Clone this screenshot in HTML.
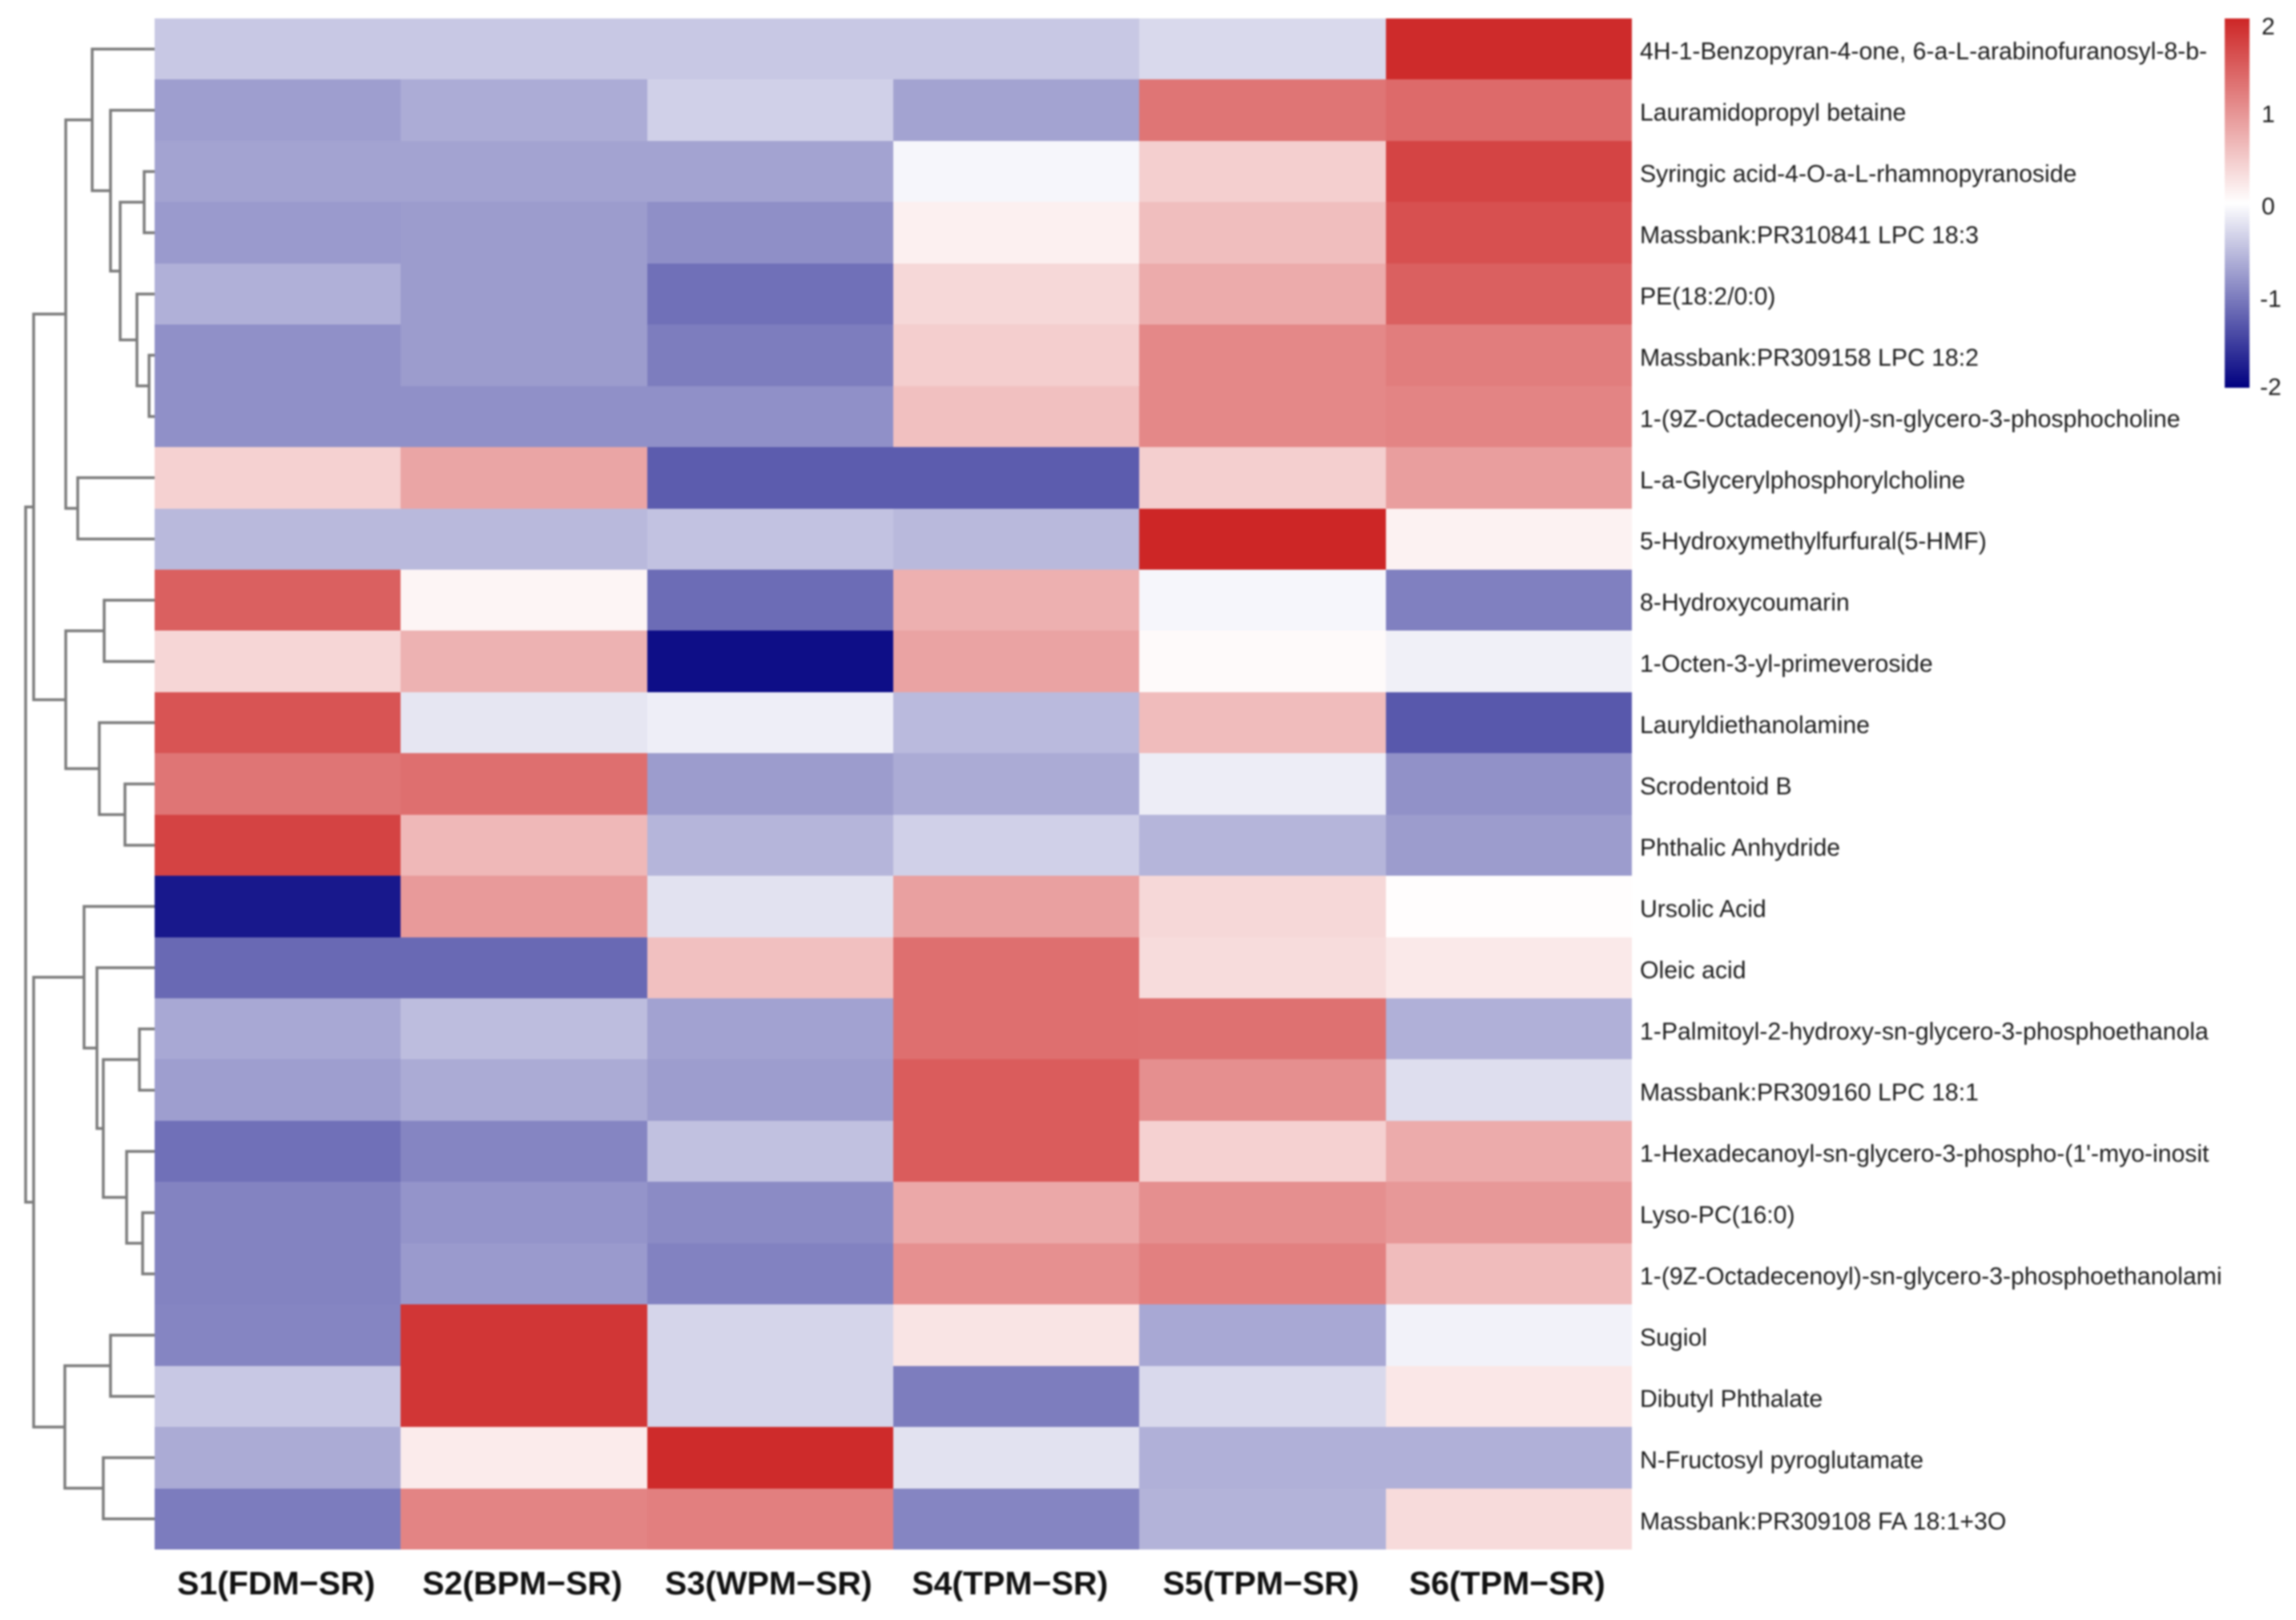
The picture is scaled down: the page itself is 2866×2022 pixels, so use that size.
<!DOCTYPE html>
<html lang="en">
<head>
<meta charset="utf-8">
<title>Metabolite heatmap</title>
<style>
html,body{margin:0;padding:0;background:#fff;width:2866px;height:2022px;overflow:hidden}
svg{display:block;filter:blur(1px)}
text{font-family:"Liberation Sans",sans-serif}
</style>
</head>
<body>
<svg id="chart" xmlns="http://www.w3.org/2000/svg" width="2866" height="2022" viewBox="0 0 2866 2022">
<defs>
<linearGradient id="legend-gradient" x1="0" y1="0" x2="0" y2="1">
<stop offset="0" stop-color="#cd2626"/>
<stop offset="0.5" stop-color="#ffffff"/>
<stop offset="1" stop-color="#000080"/>
</linearGradient>
</defs>
<g id="dendrogram"></g>
<g id="cells"></g>
<g id="row-labels"></g>
<g id="col-labels"></g>
<g id="legend"></g>
</svg>
<script>
const rowNames = [
"4H-1-Benzopyran-4-one, 6-a-L-arabinofuranosyl-8-b-",
"Lauramidopropyl betaine",
"Syringic acid-4-O-a-L-rhamnopyranoside",
"Massbank:PR310841 LPC 18:3",
"PE(18:2/0:0)",
"Massbank:PR309158 LPC 18:2",
"1-(9Z-Octadecenoyl)-sn-glycero-3-phosphocholine",
"L-a-Glycerylphosphorylcholine",
"5-Hydroxymethylfurfural(5-HMF)",
"8-Hydroxycoumarin",
"1-Octen-3-yl-primeveroside",
"Lauryldiethanolamine",
"Scrodentoid B",
"Phthalic Anhydride",
"Ursolic Acid",
"Oleic acid",
"1-Palmitoyl-2-hydroxy-sn-glycero-3-phosphoethanola",
"Massbank:PR309160 LPC 18:1",
"1-Hexadecanoyl-sn-glycero-3-phospho-(1'-myo-inosit",
"Lyso-PC(16:0)",
"1-(9Z-Octadecenoyl)-sn-glycero-3-phosphoethanolami",
"Sugiol",
"Dibutyl Phthalate",
"N-Fructosyl pyroglutamate",
"Massbank:PR309108 FA 18:1+3O"
];
const colNames = ["S1(FDM\u2212SR)","S2(BPM\u2212SR)","S3(WPM\u2212SR)","S4(TPM\u2212SR)","S5(TPM\u2212SR)","S6(TPM\u2212SR)"];
const values = [
[-0.43,-0.43,-0.43,-0.43,-0.30,1.95],
[-0.76,-0.65,-0.37,-0.72,1.27,1.37],
[-0.72,-0.72,-0.72,-0.07,0.44,1.72],
[-0.79,-0.78,-0.88,0.14,0.60,1.61],
[-0.62,-0.78,-1.12,0.36,0.77,1.47],
[-0.87,-0.78,-1.02,0.45,1.10,1.20],
[-0.87,-0.87,-0.87,0.58,1.10,1.13],
[0.42,0.83,-1.28,-1.28,0.44,0.89],
[-0.55,-0.55,-0.48,-0.55,2.00,0.12],
[1.47,0.09,-1.15,0.73,-0.07,-1.00],
[0.38,0.71,-1.89,0.85,0.05,-0.12],
[1.58,-0.20,-0.13,-0.54,0.62,-1.31],
[1.27,1.33,-0.78,-0.66,-0.14,-0.86],
[1.73,0.65,-0.58,-0.37,-0.58,-0.78],
[-1.81,0.93,-0.23,0.88,0.36,0.02],
[-1.18,-1.18,0.58,1.33,0.32,0.20],
[-0.68,-0.52,-0.73,1.33,1.31,-0.62],
[-0.76,-0.66,-0.77,1.50,1.03,-0.26],
[-1.12,-0.96,-0.49,1.50,0.42,0.77],
[-0.97,-0.84,-0.91,0.80,1.03,0.95],
[-0.97,-0.79,-0.98,1.02,1.17,0.62],
[-0.96,1.85,-0.33,0.25,-0.68,-0.10],
[-0.43,1.85,-0.33,-1.02,-0.30,0.22],
[-0.66,0.18,1.95,-0.23,-0.62,-0.62],
[-1.03,1.13,1.18,-0.96,-0.60,0.33]
];
/* Row clustering: child >= 0 is a row index; child < 0 is merge number -child. */
const mergeLeft  = [5,2,4,-2,1,0,7,-6,9,12,11,-9,-8,16,19,18,-14,15,14,21,23,-20,-19,-13];
const mergeRight = [6,3,-1,-3,-4,-5,8,-7,10,13,-10,-11,-12,17,20,-15,-16,-17,-18,22,24,-21,-22,-23];
const mergeHeight = [0.43,0.81,1.37,2.67,3.42,4.84,5.96,6.89,3.91,2.30,4.29,6.89,9.38,1.18,0.93,2.17,3.98,4.47,5.47,3.42,3.98,6.96,9.38,10];
const legendTicks = [2,1,0,-1,-2];

const NS = "http://www.w3.org/2000/svg";
const plot = {left:193, right:2037, top:23, bottom:1934};
const legendBox = {left:2777, right:2808, top:23, bottom:484};
const xBand = (plot.right - plot.left) / colNames.length;
const yBand = (plot.bottom - plot.top) / rowNames.length;
const xCol = c => plot.left + c * xBand;
const yRow = r => plot.top + r * yBand;
const yRowMid = r => yRow(r) + yBand / 2;
const xDist = h => plot.left - h * 16.1;
const yLegend = v => legendBox.top + (2 - v) / 4 * (legendBox.bottom - legendBox.top);

function mix(a, b, t) { return Math.round(a + (b - a) * t); }
function colorOf(v) {
  const t = Math.min(1, Math.abs(v) / 2);
  if (v >= 0) return `rgb(${mix(255,205,t)},${mix(255,38,t)},${mix(255,38,t)})`;
  return `rgb(${mix(255,0,t)},${mix(255,0,t)},${mix(255,128,t)})`;
}
function make(tag, attrs, parent) {
  const el = document.createElementNS(NS, tag);
  for (const k in attrs) el.setAttribute(k, attrs[k]);
  parent.appendChild(el);
  return el;
}

/* heatmap cells */
const cellsG = document.getElementById("cells");
values.forEach((row, r) => {
  row.forEach((v, c) => {
    const x0 = Math.round(xCol(c)), x1 = Math.round(xCol(c + 1));
    const y0 = Math.round(yRow(r)), y1 = Math.round(yRow(r + 1));
    const el = make("rect", {x:x0, y:y0, width:x1 - x0, height:y1 - y0, fill:colorOf(v)}, cellsG);
    
    
  });
});

/* row labels */
const rowG = document.getElementById("row-labels");
rowNames.forEach((name, r) => {
  const el = make("text", {x:2047, y:yRowMid(r) + 13, "font-size":30.2, fill:"#1c1c1c"}, rowG);
  el.textContent = name;
  
  
});

/* column labels */
const colG = document.getElementById("col-labels");
colNames.forEach((name, c) => {
  const nudge = c === 3 ? -8 : -2;
  const el = make("text", {x:xCol(c) + xBand / 2 + nudge, y:1990, "font-size":41, "font-weight":"bold", "text-anchor":"middle", fill:"#111"}, colG);
  el.textContent = name;
  
  
});

/* dendrogram */
const dendroG = document.getElementById("dendrogram");
const nodeY = [], nodeX = [];
function childPos(ch) {
  if (ch >= 0) return {x: plot.left, y: yRowMid(ch)};
  return {x: nodeX[-ch - 1], y: nodeY[-ch - 1]};
}
mergeHeight.forEach((h, i) => {
  const a = childPos(mergeLeft[i]);
  const b = childPos(mergeRight[i]);
  const x = xDist(h);
  nodeX[i] = x;
  nodeY[i] = (a.y + b.y) / 2;
  const el = make("path", {
    d:`M${a.x} ${a.y}H${x}V${b.y}H${b.x}`,
    fill:"none", stroke:"#7c7c7c", "stroke-width":3.5
  }, dendroG);
  
  
});

/* legend */
const legendG = document.getElementById("legend");
const bar = make("rect", {x:legendBox.left, y:legendBox.top, width:legendBox.right - legendBox.left, height:legendBox.bottom - legendBox.top, fill:"url(#legend-gradient)"}, legendG);


legendTicks.forEach(t => {
  const el = make("text", {x:t < 0 ? 2821 : 2823, y:yLegend(t) + (t === 2 ? 20 : (t === -2 ? 9 : 14)), "font-size":30, fill:"#1c1c1c"}, legendG);
  el.textContent = String(t);
  
  
});
</script>
</body>
</html>
